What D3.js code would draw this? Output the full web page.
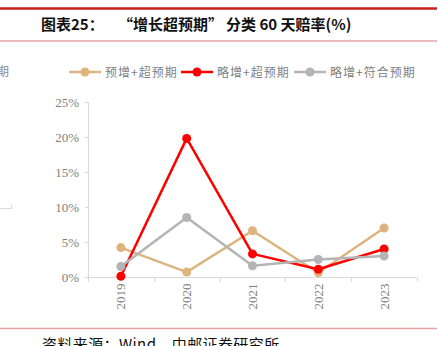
<!DOCTYPE html>
<html><head><meta charset="utf-8">
<script src="https://cdn.jsdelivr.net/npm/d3@7"></script>
<style>body{margin:0;background:#fff}svg{display:block}</style>
</head><body>
<script>
const categories = ["2019","2020","2021","2022","2023"];
const seriesNames = ["预增+超预期","略增+超预期","略增+符合预期"];
const seriesTan = [4.2, 0.7, 6.6, 0.6, 7.0];
const seriesRed = [0.1, 19.8, 3.3, 1.1, 4.0];
const seriesGray = [1.5, 8.5, 1.6, 2.5, 3.0];
const yTicks = [0, 5, 10, 15, 20, 25];
const colors = ["#DDB47E", "#FF0000", "#B4B4B4"];

const W = 439, H = 346;
const svg = d3.select("body").append("svg").attr("width", W).attr("height", H);
const cjk = "'Noto Sans CJK SC','Noto Sans',sans-serif";
const serif = "'Liberation Serif','DejaVu Serif',serif";

// decoration lines
svg.append("line").attr("x1",0).attr("x2",437).attr("y1",8.5).attr("y2",8.5).attr("stroke","#C81E1E").attr("stroke-width",2.5);
svg.append("line").attr("x1",0).attr("x2",437).attr("y1",41).attr("y2",41).attr("stroke","#E6A3A3").attr("stroke-width",1.5);
svg.append("line").attr("x1",0).attr("x2",437).attr("y1",328.5).attr("y2",328.5).attr("stroke","#E6A3A3").attr("stroke-width",1.5);
const title = svg.append("text").attr("y",30).style("font-family",cjk).attr("font-weight",700).attr("font-size",15).attr("fill","#111");
title.append("tspan").attr("x",41).text("图表25：");
title.append("tspan").attr("x",118).text("“增长超预期”");
title.append("tspan").attr("x",226).text("分类 60 天赔率(%)");
svg.append("text").attr("x",42).attr("y",350).style("font-family",cjk).attr("font-size",15).attr("letter-spacing",0.4).attr("fill","#111")
  .text("资料来源：Wind，中邮证券研究所");
// neighbour fragments at left edge
svg.append("text").attr("x",-3).attr("y",76).style("font-family",cjk).attr("font-size",12).attr("fill","#888").text("期");
svg.append("path").attr("d","M0,208.5H11.5V205").attr("fill","none").attr("stroke","#D9D9D9").attr("stroke-width",1);

const x = d3.scaleBand().domain(categories).range([88, 417]);
const y = d3.scaleLinear().domain([0, 25]).range([277, 102]);

// y axis
const yAxis = svg.append("g").attr("transform","translate(88,0)")
  .call(d3.axisLeft(y).tickValues(yTicks).tickSize(3).tickPadding(6).tickFormat(d => d + "%"));
yAxis.attr("font-family", null);
yAxis.selectAll("line, path").attr("stroke","#D9D9D9");
yAxis.select(".domain").attr("d","M-3,102.5H0.5V277.5");
yAxis.selectAll("text").style("font-family",serif).attr("font-size",13).attr("fill","#808080");

// x axis
const xAxis = svg.append("g").attr("transform","translate(0,277.5)")
  .call(d3.axisBottom(x).tickSize(0).tickFormat(d => d));
xAxis.attr("font-family", null);
xAxis.select(".domain").attr("stroke","#D9D9D9").attr("d","M88,0H417");
xAxis.selectAll("text").style("font-family",serif).attr("font-size",13).attr("fill","#808080")
  .attr("transform","rotate(-90)").attr("text-anchor","end").attr("dy","0.35em").attr("y",0).attr("x",-6);
const bounds = categories.map(c => x(c)).concat([x.range()[1]]);
svg.append("g").selectAll("line").data(bounds).join("line")
  .attr("x1",d=>Math.round(d)+0.5).attr("x2",d=>Math.round(d)+0.5).attr("y1",277.5).attr("y2",282).attr("stroke","#D9D9D9");

const seriesAll = [seriesTan, seriesRed, seriesGray];
const line = d3.line().x((d,i) => x(categories[i]) + x.bandwidth()/2).y(d => y(d));
seriesAll.forEach((s, k) => {
  const g = svg.append("g");
  g.append("path").attr("d", line(s)).attr("fill","none").attr("stroke",colors[k]).attr("stroke-width",2.5).attr("stroke-linejoin","round");
  g.selectAll("circle").data(s).join("circle")
    .attr("cx",(d,i)=>x(categories[i]) + x.bandwidth()/2).attr("cy",d=>y(d)).attr("r",4.5).attr("fill",colors[k]);
});

// legend
const legX = [69, 181, 294];
seriesNames.forEach((n, k) => {
  const g = svg.append("g").attr("transform",`translate(${legX[k]},72)`);
  g.append("line").attr("x1",0).attr("x2",32).attr("stroke",colors[k]).attr("stroke-width",2.5);
  g.append("circle").attr("cx",16).attr("r",4.5).attr("fill",colors[k]);
  g.append("text").attr("x",36).attr("y",4.5).style("font-family",cjk).attr("font-size",12).attr("fill","#7F7F7F").attr("letter-spacing",1).text(n);
});
</script>
</body></html>
